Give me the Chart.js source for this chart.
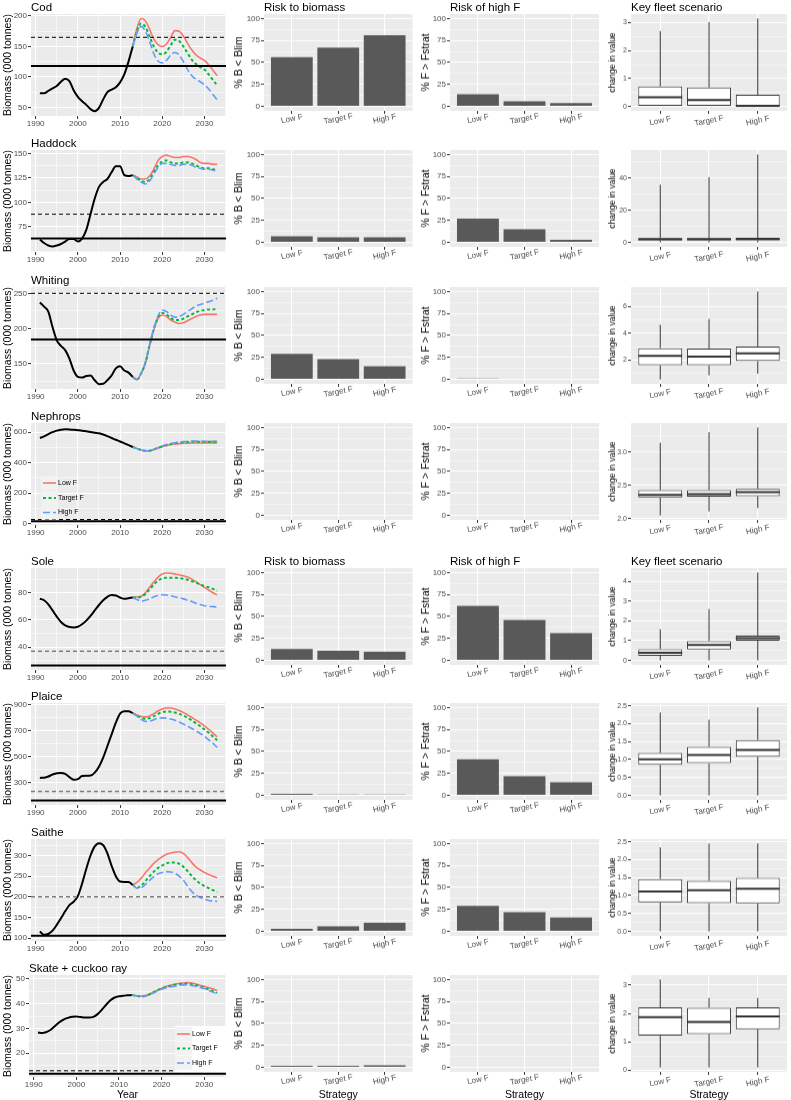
<!DOCTYPE html>
<html>
<head>
<meta charset="utf-8">
<script src="https://cdn.jsdelivr.net/npm/chart.js@4"></script>
<style>
  body { margin: 0; background: #fff; width: 791px; height: 1100px; position: relative; overflow: hidden;
         font-family: "Liberation Sans", Arial, Helvetica, sans-serif; }
  canvas { position: absolute; }
  .txt { position: absolute; white-space: nowrap; color: #000; line-height: 14px; }
</style>
</head>
<body>
<script>
// ---- data ----
const yearTicks = [1990, 2000, 2010, 2020, 2030];
const histYears = [1991, 1992, 1993, 1994, 1995, 1996, 1997, 1998, 1999, 2000, 2001, 2002,
                   2003, 2004, 2005, 2006, 2007, 2008, 2009, 2010, 2011, 2012, 2013];
const projYears = [2013, 2014, 2015, 2016, 2017, 2018, 2019, 2020, 2021, 2022, 2023,
                   2024, 2025, 2026, 2027, 2028, 2029, 2030, 2031, 2032, 2033];
const strategies = ['Low F', 'Target F', 'High F'];
const pctTicks = [0, 25, 50, 75, 100];

// Cod
const codHist = [73, 73, 77, 81, 85, 92, 97, 93, 78, 67, 60, 54, 47, 43.5, 49, 63, 75, 79, 83, 91, 104, 125, 150];
const codLow = [150, 180, 196, 192, 178, 162, 153, 150, 154, 165, 176, 175, 167, 155, 144, 136, 131, 127, 120, 111, 102];
const codTarget = [150, 175, 188, 182, 166, 150, 140, 137, 141, 152, 161, 159, 150, 139, 128, 121, 116, 112, 104, 95, 86];
const codHigh = [150, 172, 183, 175, 158, 138, 126, 123, 127, 136, 140, 136, 125, 112, 102, 96, 92, 87, 80, 71, 62];
const codRefs = [118, 165];
const codRiskB = [56, 67, 81];
const codRiskF = [14, 6, 4];
const codBox = [[0, 0, 0.33, 0.72, 2.7], [0, 0, 0.23, 0.68, 3.02], [0, 0, 0.02, 0.42, 3.15]];
const codTicks = [50, 100, 150, 200];
const codBoxTicks = [0, 1, 2, 3];

// Haddock
const hadHist = [62, 58.5, 56, 55, 56, 57.5, 60, 62.5, 62.5, 60, 63, 72, 88, 104, 116, 121, 124, 131, 137, 137, 128, 127, 128];
const hadLow = [128, 126, 124, 124, 127, 134, 143, 147, 148.5, 147, 146, 146, 147, 147, 146, 144, 141, 140, 140, 139, 139];
const hadTarget = [128, 125, 122, 121, 124, 131, 138, 142, 143, 141, 140, 140, 141, 141, 140, 138, 136, 135, 135, 134, 133];
const hadHigh = [128, 124, 121, 119, 122, 129, 136, 140, 140, 139, 138, 138, 139, 139, 138, 136, 135, 134, 134, 133, 132];
const hadRefs = [63, 88];
const hadRiskB = [7, 6, 6];
const hadRiskF = [27, 15, 3];
const hadBox = [[0, 1.3, 2.0, 2.7, 35.9], [0, 1.3, 2.0, 2.7, 40.6], [0, 1.4, 2.2, 2.9, 54.7]];
const hadTicks = [75, 100, 125, 150];
const hadBoxTicks = [0, 20, 40];

// Whiting
const whiHist = [237, 231, 224, 202, 183, 175, 169, 157, 140, 131, 130, 132, 133, 126, 120.5, 121, 126, 133, 143, 146, 140, 137, 131];
const whiLow = [131, 127, 136, 150, 175, 198, 214, 219, 217, 212, 209, 207, 208, 211, 214, 217, 219, 220, 220, 220, 220];
const whiTarget = [131, 127, 136, 151, 176, 199, 216, 222, 220, 215, 212, 212, 214, 217, 220, 223, 225, 226, 227, 227, 228];
const whiHigh = [131, 127, 136, 152, 177, 200, 218, 226, 224, 219, 216, 217, 220, 224, 228, 232, 234, 236, 238, 240, 243];
const whiRefs = [184, 250];
const whiRiskB = [29, 23, 15];
const whiRiskF = [1, 0, 0];
const whiBox = [[0.54, 1.6, 2.3, 2.88, 4.64], [0.85, 1.6, 2.25, 2.85, 5.07], [0.97, 1.92, 2.5, 3.0, 7.13]];
const whiTicks = [150, 200, 250];
const whiBoxTicks = [2, 4, 6];

// Nephrops
const nepHist = [562, 572, 587, 600, 610, 616, 619, 618, 616, 613, 610, 606, 601, 596, 593, 585, 574, 562, 550, 539, 527, 515, 503];
const nepLow = [503, 493, 483, 478, 478, 485, 495, 505, 512, 518, 522, 525, 527, 528, 529, 529, 529, 530, 530, 530, 530];
const nepTarget = [503, 493, 483, 478, 479, 487, 498, 508, 516, 522, 527, 531, 534, 536, 537, 537, 537, 537, 537, 537, 537];
const nepHigh = [503, 493, 483, 478, 479, 488, 499, 510, 518, 525, 530, 535, 538, 540, 541, 541, 541, 540, 540, 540, 540];
const nepRefs = [17, 28];
const nepRiskB = [0, 0, 0];
const nepRiskF = [0, 0, 0];
const nepBox = [[2.05, 2.32, 2.36, 2.43, 3.14], [2.11, 2.33, 2.37, 2.43, 3.30], [2.16, 2.34, 2.40, 2.45, 3.37]];
const nepTicks = [0, 200, 400, 600];
const nepBoxTicks = [2.0, 2.5, 3.0];

// Sole
const solHist = [75.6, 74.5, 71.5, 67, 62.5, 58.5, 56, 54.8, 54.5, 55, 56.8, 59.5, 63, 67, 71, 74.5, 77, 78.3, 78, 76.5, 75.5, 76, 76.5];
const solLow = [76.5, 77, 77.5, 80, 84, 88, 91.5, 93.8, 94.5, 94.3, 93.8, 93.2, 92.5, 91.5, 90, 88, 86, 84, 82, 80, 78.5];
const solTarget = [76.5, 76.5, 77, 79, 82.5, 86, 89, 90.5, 91, 91, 91, 90.8, 90.3, 89.5, 88.5, 87.5, 86, 85, 84, 82.8, 81.5];
const solHigh = [76.5, 75, 74, 74.5, 75.5, 77, 78, 78.5, 78.3, 77.8, 77, 76.2, 75.5, 74.5, 73.5, 72.3, 71.3, 70.5, 70, 69.8, 69.5];
const solRefs = [26.5, 37];
const solRiskB = [13, 11, 10];
const solRiskF = [62, 46, 31];
const solBox = [[0, 0.24, 0.39, 0.57, 1.58], [0, 0.56, 0.78, 0.98, 2.6], [0, 1.0, 1.13, 1.26, 4.45]];
const solTicks = [40, 60, 80];
const solBoxTicks = [0, 1, 2, 3, 4];

// Plaice
const plaHist = [334, 336, 345, 360, 370, 372, 365, 340, 320, 325, 348, 350, 352, 375, 420, 490, 580, 670, 760, 830, 848, 848, 835];
const plaLow = [835, 820, 808, 805, 812, 830, 850, 866, 874, 873, 866, 855, 840, 820, 800, 780, 759, 735, 708, 680, 650];
const plaTarget = [835, 815, 797, 790, 795, 810, 828, 841, 846, 844, 838, 828, 815, 797, 777, 755, 733, 708, 682, 654, 625];
const plaHigh = [835, 810, 785, 770, 772, 783, 795, 797, 795, 788, 778, 765, 750, 733, 715, 697, 677, 655, 628, 600, 570];
const plaRefs = [159, 230];
const plaRiskB = [2, 1, 1];
const plaRiskF = [41, 22, 15];
const plaBox = [[0, 0.85, 1.01, 1.18, 2.31], [0, 0.9, 1.13, 1.35, 2.11], [0, 1.08, 1.27, 1.54, 2.45]];
const plaTicks = [300, 500, 700, 900];
const plaBoxTicks = [0, 0.5, 1.0, 1.5, 2.0, 2.5];

// Saithe
const saiHist = [116, 108, 110, 118, 132, 148, 165, 180, 188, 202, 232, 268, 300, 322, 330, 325, 305, 275, 250, 237, 236, 236, 229];
const saiLow = [229, 235, 245, 258, 270, 281, 290, 297, 303, 306, 308, 309, 305, 295, 283, 272, 265, 259, 254, 250, 246];
const saiTarget = [229, 222, 227, 238, 250, 261, 270, 276, 281, 283, 283, 280, 273, 262, 250, 240, 232, 226, 221, 216, 212];
const saiHigh = [229, 221, 222, 230, 240, 249, 256, 259, 261, 260, 257, 250, 240, 226, 213, 204, 198, 194, 191, 190, 189];
const saiRefs = [106, 200];
const saiRiskB = [3, 6, 10];
const saiRiskF = [29, 22, 16];
const saiBox = [[0, 0.81, 1.11, 1.46, 2.34], [0, 0.79, 1.15, 1.41, 2.45], [0, 0.78, 1.19, 1.49, 2.45]];
const saiTicks = [100, 150, 200, 250, 300];
const saiBoxTicks = [0, 0.5, 1.0, 1.5, 2.0, 2.5];

// Skate + cuckoo ray
const skaHist = [28.4, 28.2, 28.6, 29.5, 31, 32.5, 33.6, 34.3, 34.7, 34.8, 34.6, 34.4, 34.4, 34.7, 35.8, 37.6, 39.6, 41.4, 42.5, 43.0, 43.2, 43.4, 43.5];
const skaLow = [43.5, 43.2, 43.0, 43.2, 43.8, 44.6, 45.5, 46.3, 47.0, 47.5, 47.9, 48.2, 48.4, 48.5, 48.4, 48.0, 47.5, 47.0, 46.5, 46.0, 45.3];
const skaTarget = [43.5, 43.2, 43.0, 43.1, 43.7, 44.5, 45.4, 46.2, 46.8, 47.2, 47.6, 47.9, 48.1, 48.1, 47.9, 47.5, 47.0, 46.4, 45.8, 45.1, 44.4];
const skaHigh = [43.5, 43.2, 42.9, 43.0, 43.5, 44.3, 45.1, 45.8, 46.4, 46.8, 47.1, 47.4, 47.6, 47.6, 47.4, 47.0, 46.6, 46.1, 45.4, 44.7, 44.0];
const skaRefs = [11.7, 12.9];
const skaRiskB = [2, 2, 2.5];
const skaRiskF = [0, 0, 0];
const skaBox = [[0.1, 1.22, 1.87, 2.22, 3.2], [0.1, 1.28, 1.7, 2.2, 2.55], [0.1, 1.45, 1.9, 2.22, 2.55]];
const skaTicks = [20, 30, 40, 50];
const skaBoxTicks = [0, 1, 2, 3];

// ---- layout ----
const FONT = '"Liberation Sans", Arial, Helvetica, sans-serif';
Chart.defaults.font.family = FONT;
Chart.defaults.animation = false;

const cols = [
  {x0: 0, w: 229, pl: 31, pr: 226, ph: 102, xh: 14},
  {x0: 229, w: 185, pl: 264, pr: 412.5, ph: 96.5, xh: 20},
  {x0: 414, w: 187, pl: 450, pr: 599, ph: 96.5, xh: 20},
  {x0: 601, w: 190, pl: 631, pr: 787, ph: 96.5, xh: 20}
];
const rowTops = [14, 150, 287, 423, 568, 703, 839, 975];
const PADTOP = 7;

const thinRef = {color: '#000000', width: 1, dash: [4, 3]};
const greyRef = {color: '#7F7F7F', width: 1.5, dash: [4, 3]};

const rows = [
  {name: 'Cod', hist: codHist, proj: [codLow, codTarget, codHigh], refs: codRefs, riskB: codRiskB, riskF: codRiskF,
   box: codBox, ticks: codTicks, boxTicks: codBoxTicks, yMin: 35.7, yMax: 203.3, heads: true, ref: thinRef},
  {name: 'Haddock', hist: hadHist, proj: [hadLow, hadTarget, hadHigh], refs: hadRefs, riskB: hadRiskB, riskF: hadRiskF,
   box: hadBox, ticks: hadTicks, boxTicks: hadBoxTicks, yMin: 49.3, yMax: 153.7, ref: thinRef},
  {name: 'Whiting', hist: whiHist, proj: [whiLow, whiTarget, whiHigh], refs: whiRefs, riskB: whiRiskB, riskF: whiRiskF,
   box: whiBox, ticks: whiTicks, boxTicks: whiBoxTicks, yMin: 113.6, yMax: 259, ref: thinRef},
  {name: 'Nephrops', hist: nepHist, proj: [nepLow, nepTarget, nepHigh], refs: nepRefs, riskB: nepRiskB, riskF: nepRiskF,
   box: nepBox, ticks: nepTicks, boxTicks: nepBoxTicks, boxDec: 1, yMin: -8, yMax: 660, ref: thinRef,
   legend: {kx: 12, tx: 27, ys: [60, 75, 89.5]}},
  {name: 'Sole', hist: solHist, proj: [solLow, solTarget, solHigh], refs: solRefs, riskB: solRiskB, riskF: solRiskF,
   box: solBox, ticks: solTicks, boxTicks: solBoxTicks, yMin: 23.2, yMax: 98.2, heads: true, ref: greyRef},
  {name: 'Plaice', hist: plaHist, proj: [plaLow, plaTarget, plaHigh], refs: plaRefs, riskB: plaRiskB, riskF: plaRiskF,
   box: plaBox, ticks: plaTicks, boxTicks: plaBoxTicks, boxDec: 1, yMin: 125, yMax: 912, ref: greyRef},
  {name: 'Saithe', hist: saiHist, proj: [saiLow, saiTarget, saiHigh], refs: saiRefs, riskB: saiRiskB, riskF: saiRiskF,
   box: saiBox, ticks: saiTicks, boxTicks: saiBoxTicks, boxDec: 1, yMin: 93, yMax: 340, ref: greyRef},
  {name: 'Skate + cuckoo ray', hist: skaHist, proj: [skaLow, skaTarget, skaHigh], refs: skaRefs, riskB: skaRiskB, riskF: skaRiskF,
   box: skaBox, ticks: skaTicks, boxTicks: skaBoxTicks, yMin: 10.4, yMax: 51.6, ref: thinRef, pl: 29, last: true,
   legend: {kx: 148, tx: 163, ys: [59, 73.5, 88], bg: [146, 51, 51, 46]}}
];

const projStyles = [
  {color: '#F8766D', width: 1.6, dash: []},
  {color: '#00BA38', width: 2, dash: [3, 2.5]},
  {color: '#619CFF', width: 1.6, dash: [7, 3]}
];

// ---- helpers ----
function withMinor(majors, min, max) {
  const step = majors[1] - majors[0];
  const start = majors[0] - step, end = majors[majors.length - 1] + step;
  const out = [];
  for (let k = 0; start + k * step / 2 <= end + 1e-9; k++) {
    const v = +(start + k * step / 2).toFixed(6);
    if (v >= min - 1e-9 && v <= max + 1e-9) out.push(v);
  }
  return out;
}
function isMajor(majors, v) { return majors.some(m => Math.abs(m - v) < 1e-6); }

function grid(majors) {
  const maj = c => c.tick && isMajor(majors, c.tick.value);
  return {
    color: '#FFFFFF', offset: false,
    lineWidth: c => maj(c) ? 1.1 : 0.55,
    drawTicks: true, tickLength: 3, tickWidth: 1,
    tickColor: c => maj(c) ? '#333333' : 'rgba(0,0,0,0)'
  };
}

function yAxis(o) {
  return {
    type: 'linear', position: 'left', min: o.min, max: o.max,
    afterBuildTicks: s => { s.ticks = withMinor(o.majors, o.min, o.max).map(v => ({value: v})); },
    afterFit: s => { s.width = o.width; },
    grid: grid(o.majors),
    border: {display: false},
    ticks: {autoSkip: false, padding: 1, color: '#4D4D4D', font: {size: o.tickSize},
            callback: v => isMajor(o.majors, v) ? v.toFixed(o.dec || 0) : ''},
    title: {display: true, text: o.title, color: '#000', font: {size: o.titleSize},
            padding: {top: o.titlePad, bottom: 0}}
  };
}

function yearAxis(h) {
  const min = 1988.9, max = 2035.1;
  return {
    type: 'linear', min: min, max: max,
    afterBuildTicks: s => { s.ticks = withMinor(yearTicks, min, max).map(v => ({value: v})); },
    afterFit: s => { s.height = h; },
    grid: grid(yearTicks),
    border: {display: false},
    ticks: {autoSkip: false, maxRotation: 0, minRotation: 0, padding: 0, color: '#4D4D4D', font: {size: 8},
            callback: v => isMajor(yearTicks, v) ? String(v) : ''}
  };
}

function stratAxis(h) {
  return {
    type: 'linear', min: 0.4, max: 3.6, offset: false,
    afterBuildTicks: s => { s.ticks = [1, 2, 3].map(v => ({value: v})); },
    afterFit: s => { s.height = h; },
    grid: grid([1, 2, 3]),
    border: {display: false},
    ticks: {display: false}
  };
}

// ---- plugins ----
const extras = new WeakMap();

Chart.register({
  id: 'panelBg',
  beforeDraw(chart) {
    const a = chart.chartArea, ctx = chart.ctx;
    ctx.save();
    ctx.fillStyle = '#EBEBEB';
    ctx.fillRect(a.left, a.top, a.right - a.left, a.bottom - a.top);
    ctx.restore();
  }
}, {
  id: 'boxWhisk',
  afterDatasetsDraw(chart) {
    const e = extras.get(chart.canvas);
    if (!e || !e.box) return;
    const ctx = chart.ctx, xs = chart.scales.x, ys = chart.scales.y;
    const meta = chart.getDatasetMeta(0);
    ctx.save();
    ctx.strokeStyle = '#333333';
    e.box.forEach((b, i) => {
      const x = xs.getPixelForValue(i + 1), hw = meta.data[i].width / 2;
      ctx.lineWidth = 1;
      ctx.beginPath();
      ctx.moveTo(x, ys.getPixelForValue(b[4])); ctx.lineTo(x, ys.getPixelForValue(b[3]));
      ctx.moveTo(x, ys.getPixelForValue(b[1])); ctx.lineTo(x, ys.getPixelForValue(b[0]));
      ctx.stroke();
      ctx.lineWidth = 2;
      ctx.beginPath();
      ctx.moveTo(x - hw, ys.getPixelForValue(b[2])); ctx.lineTo(x + hw, ys.getPixelForValue(b[2]));
      ctx.stroke();
    });
    ctx.restore();
  }
}, {
  id: 'rotLabels',
  afterDraw(chart) {
    const e = extras.get(chart.canvas);
    if (!e || !e.rot) return;
    const ctx = chart.ctx, xs = chart.scales.x, a = chart.chartArea;
    ctx.save();
    ctx.font = e.rot.size + 'px ' + FONT;
    ctx.fillStyle = '#4D4D4D';
    ctx.textAlign = 'center';
    ctx.textBaseline = 'middle';
    strategies.forEach((t, i) => {
      ctx.save();
      ctx.translate(xs.getPixelForValue(i + 1), a.bottom + e.rot.dy);
      ctx.rotate(-11 * Math.PI / 180);
      ctx.fillText(t, 0, 0);
      ctx.restore();
    });
    ctx.restore();
  }
}, {
  id: 'innerLegend',
  afterDraw(chart) {
    const e = extras.get(chart.canvas);
    if (!e || !e.legend) return;
    const L = e.legend, a = chart.chartArea, ctx = chart.ctx;
    ctx.save();
    if (L.bg) {
      ctx.fillStyle = '#FFFFFF';
      ctx.fillRect(a.left + L.bg[0], a.top + L.bg[1], L.bg[2], L.bg[3]);
    }
    ctx.font = '7px ' + FONT;
    ctx.textBaseline = 'middle';
    projStyles.forEach((s, i) => {
      const y = a.top + L.ys[i], x = a.left + L.kx;
      ctx.fillStyle = '#F2F2F2';
      ctx.fillRect(x - 2, y - 7, 17, 14);
      ctx.strokeStyle = s.color; ctx.lineWidth = s.width; ctx.setLineDash(s.dash);
      ctx.beginPath(); ctx.moveTo(x, y); ctx.lineTo(x + 13, y); ctx.stroke();
      ctx.setLineDash([]);
      ctx.fillStyle = '#000';
      ctx.fillText(strategies[i], a.left + L.tx, y);
    });
    ctx.restore();
  }
});

// ---- build ----
function addText(t, x, y, size, center) {
  const d = document.createElement('div');
  d.className = 'txt';
  d.textContent = t;
  d.style.fontSize = size + 'px';
  d.style.top = y + 'px';
  if (center) { d.style.left = (x - 100) + 'px'; d.style.width = '200px'; d.style.textAlign = 'center'; }
  else d.style.left = x + 'px';
  document.body.appendChild(d);
}

function makeCanvas(col, top, ex) {
  const c = document.createElement('canvas');
  const h = PADTOP + col.ph + col.xh;
  c.width = col.w; c.height = h;
  c.style.left = col.x0 + 'px'; c.style.top = (top - PADTOP) + 'px';
  c.style.width = col.w + 'px'; c.style.height = h + 'px';
  document.body.appendChild(c);
  extras.set(c, ex || {});
  return c;
}

function baseOptions(col) {
  return {
    responsive: false, animation: false, devicePixelRatio: 1,
    layout: {padding: {left: 0, top: PADTOP, right: col.x0 + col.w - col.pr, bottom: 0}},
    plugins: {legend: {display: false}, tooltip: {enabled: false}}
  };
}

const hline = (y, st) => ({
  data: [{x: 1988.9, y: y}, {x: 2035.1, y: y}],
  borderColor: st.color, borderWidth: st.width, borderDash: st.dash || [], pointRadius: 0
});

rows.forEach((r, ri) => {
  const top = rowTops[ri];

  // biomass time series
  const c1 = cols[0];
  const pl = r.pl || c1.pl;
  const o1 = baseOptions(c1);
  o1.scales = {
    x: yearAxis(c1.xh),
    y: yAxis({majors: r.ticks, min: r.yMin, max: r.yMax, width: pl - c1.x0, tickSize: 8,
              title: 'Biomass (000 tonnes)', titleSize: 10.5, titlePad: 2})
  };
  const projSets = r.proj.map((vals, i) => ({
    data: projYears.map((yr, k) => ({x: yr, y: vals[k]})),
    borderColor: projStyles[i].color, borderWidth: projStyles[i].width, borderDash: projStyles[i].dash,
    pointRadius: 0, cubicInterpolationMode: 'monotone'
  })).reverse();
  new Chart(makeCanvas(c1, top, {legend: r.legend}), {
    type: 'line',
    data: {datasets: [
      hline(r.refs[0], {color: '#000', width: 2}),
      hline(r.refs[1], r.ref),
      {data: histYears.map((yr, k) => ({x: yr, y: r.hist[k]})), borderColor: '#000', borderWidth: 2,
       pointRadius: 0, cubicInterpolationMode: 'monotone'},
      ...projSets
    ]},
    options: o1
  });

  // risk bars
  [[r.riskB, '% B < Blim', 4], [r.riskF, '% F > Fstrat', 6]].forEach(([vals, title, pad], j) => {
    const col = cols[1 + j];
    const o = baseOptions(col);
    o.scales = {
      x: stratAxis(col.xh),
      y: yAxis({majors: pctTicks, min: -5, max: 105, width: col.pl - col.x0, tickSize: 8,
                title: title, titleSize: 10.5, titlePad: pad})
    };
    new Chart(makeCanvas(col, top, {rot: {size: 8, dy: 8}}), {
      type: 'bar',
      data: {datasets: [{
        data: strategies.map((s, i) => ({x: i + 1, y: vals[i]})),
        backgroundColor: '#595959', barPercentage: 0.9, categoryPercentage: 1
      }]},
      options: o
    });
  });

  // key fleet box plots
  const c4 = cols[3];
  const lo = Math.min(...r.box.map(b => b[0])), hi = Math.max(...r.box.map(b => b[4]));
  const pad = (hi - lo) * 0.05;
  const o4 = baseOptions(c4);
  o4.scales = {
    x: stratAxis(c4.xh),
    y: yAxis({majors: r.boxTicks, min: lo - pad, max: hi + pad, width: c4.pl - c4.x0, tickSize: 7,
              dec: r.boxDec, title: 'change in value', titleSize: 8.5, titlePad: 7})
  };
  new Chart(makeCanvas(c4, top, {box: r.box, rot: {size: 8, dy: 10}}), {
    type: 'bar',
    data: {datasets: [{
      data: strategies.map((s, i) => ({x: i + 1, y: [r.box[i][1], r.box[i][3]]})),
      backgroundColor: '#FFFFFF', borderColor: '#333333', borderWidth: 1, borderSkipped: false,
      barPercentage: 0.9, categoryPercentage: 1
    }]},
    options: o4
  });

  // titles
  addText(r.name, pl, top - 14, 11.5);
  if (r.heads) {
    addText('Risk to biomass', cols[1].pl, top - 14, 11.5);
    addText('Risk of high F', cols[2].pl, top - 14, 11.5);
    addText('Key fleet scenario', cols[3].pl, top - 14, 11.5);
  }
  if (r.last) {
    const yb = top + cols[0].ph + 10;
    addText('Year', (pl + cols[0].pr) / 2, yb, 10.5, true);
    for (let j = 1; j < 4; j++) addText('Strategy', (cols[j].pl + cols[j].pr) / 2, yb, 10.5, true);
  }
});
</script>
</body>
</html>
